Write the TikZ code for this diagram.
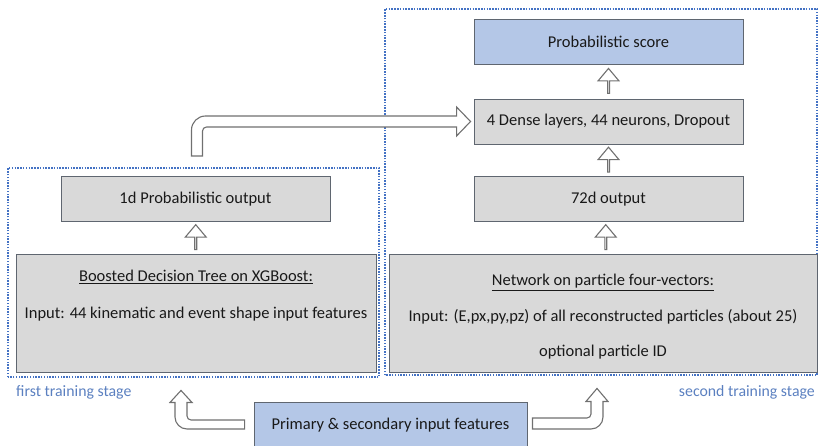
\documentclass[tikz,border=0pt]{standalone}
\usepackage{fontspec}
\setmainfont{Carlito}
\usetikzlibrary{calc,shapes.arrows}
\definecolor{boxgray}{HTML}{D9D9D9}
\definecolor{boxblue}{HTML}{B4C7E7}
\definecolor{boxline}{HTML}{5F6670}
\definecolor{dotblue}{HTML}{4472C4}
\definecolor{stagetxt}{HTML}{5B80C0}
\definecolor{arrline}{HTML}{707070}
\tikzset{
  gbox/.style={draw=boxline, line width=0.9pt, fill=boxgray, minimum width=269pt, minimum height=45pt, inner sep=0pt, font=\fontsize{16.5}{19}\selectfont, text=black!90},
  bbox/.style={gbox, fill=boxblue},
  txt/.style={inner sep=0pt, font=\fontsize{16.5}{19}\selectfont, text=black!90},
  stagebox/.style={draw=dotblue, line width=1.5pt, dash pattern=on 1.5pt off 1.3pt},
  stagelbl/.style={inner sep=0pt, font=\fontsize{15.8}{18}\selectfont, text=stagetxt},
  uparr/.style={single arrow, draw=arrline, fill=white, line width=1.1pt, shape border rotate=90, minimum width=21pt, single arrow head extend=5.5pt, single arrow tip angle=80, minimum height=25pt, inner sep=0pt},
  barrow/.style={draw=arrline, fill=white, line width=1.1pt, line join=miter}
}
\begin{document}
\begin{tikzpicture}[x=1pt,y=1pt]
\useasboundingbox (0,0) rectangle (821,445);
% stage frames
\draw[stagebox] (8,68) rectangle (379,277);
\draw[stagebox] (385,70) rectangle (817,436);
% boxes
\node[bbox] (score) at (608.5,403.5) {Probabilistic score};
\node[gbox] (dense) at (608.5,323.5) {4 Dense layers, 44 neurons, Dropout};
\node[gbox] (out72) at (608.5,246) {72d output};
\node[gbox] (out1) at (195.5,246) {1d Probabilistic output};
\node[gbox, minimum width=360pt, minimum height=118pt] (bdt) at (196,132) {};
\node[gbox, minimum width=428pt, minimum height=118pt] (net) at (603,132) {};
\node[bbox, minimum width=273pt, minimum height=48pt] (prim) at (390.5,19) {};
\node[txt] (primtxt) at (390.5,20) {Primary \& secondary input features};
% box texts
\node[txt] (bdtt) at ($(bdt.north)+(0,-23)$) {\underline{Boosted Decision Tree on XGBoost:}};
\node[txt] (bdti) at ($(bdt.north)+(0,-61)$) {Input: 44 kinematic and event shape input features};
\node[txt] (nett) at ($(net.north)+(0,-29)$) {\underline{Network on particle four-vectors:}};
\node[txt] (neti) at ($(net.north)+(0,-63)$) {Input: (E,px,py,pz) of all reconstructed particles (about 25)};
\node[txt] (neto) at ($(net.north)+(0,-99)$) {optional particle ID};
% stage labels
\node[stagelbl, anchor=west] (lab1) at (16,53) {first training stage};
\node[stagelbl, anchor=east] (lab2) at (815,53) {second training stage};
% straight block arrows
\node[uparr] (a1) at ($(dense.north)!0.5!(score.south)$) {};
\node[uparr] (a2) at ($(out72.north)!0.5!(dense.south)$) {};
\node[uparr] (a3) at ($(net.north)!0.5!(out72.south)$) {};
\node[uparr] (a4) at ($(bdt.north)!0.5!(out1.south)$) {};
% bent arrow out1 -> dense
\draw[barrow] let \p1=(out1.north), \p2=(dense.west) in
  (\x1-4,\y1+20) [rounded corners=14pt] -- (\x1-4,\y2+5.5) [sharp corners] -- (\x2-17,\y2+5.5)
  -- (\x2-17,\y2+14.5) -- (\x2-3,\y2) -- (\x2-17,\y2-14.5) -- (\x2-17,\y2-5.5)
  [rounded corners=4pt] -- (\x1+7,\y2-5.5) [sharp corners] -- (\x1+7,\y1+20) -- cycle;
% bent arrow prim -> bdt
\draw[barrow] let \p1=(prim.west), \p2=(bdt.south) in
  (\x1-9,\y1+6) [rounded corners=4pt] -- (\x2-9,\y1+6) [sharp corners] -- (\x2-9,\y2-30)
  -- (\x2-4,\y2-30) -- (\x2-15,\y2-18) -- (\x2-26,\y2-30) -- (\x2-21,\y2-30)
  [rounded corners=12pt] -- (\x2-21,\y1-3) [sharp corners] -- (\x1-9,\y1-3) -- cycle;
% bent arrow prim -> net
\draw[barrow] let \p1=(prim.east), \p2=(net.south) in
  (\x1+5,\y1+8) [rounded corners=4pt] -- (\x2-12,\y1+8) [sharp corners] -- (\x2-12,\y2-29)
  -- (\x2-17,\y2-29) -- (\x2-6,\y2-16) -- (\x2+5,\y2-29) -- (\x2,\y2-29)
  [rounded corners=12pt] -- (\x2,\y1-3) [sharp corners] -- (\x1+5,\y1-3) -- cycle;
\end{tikzpicture}
\end{document}
